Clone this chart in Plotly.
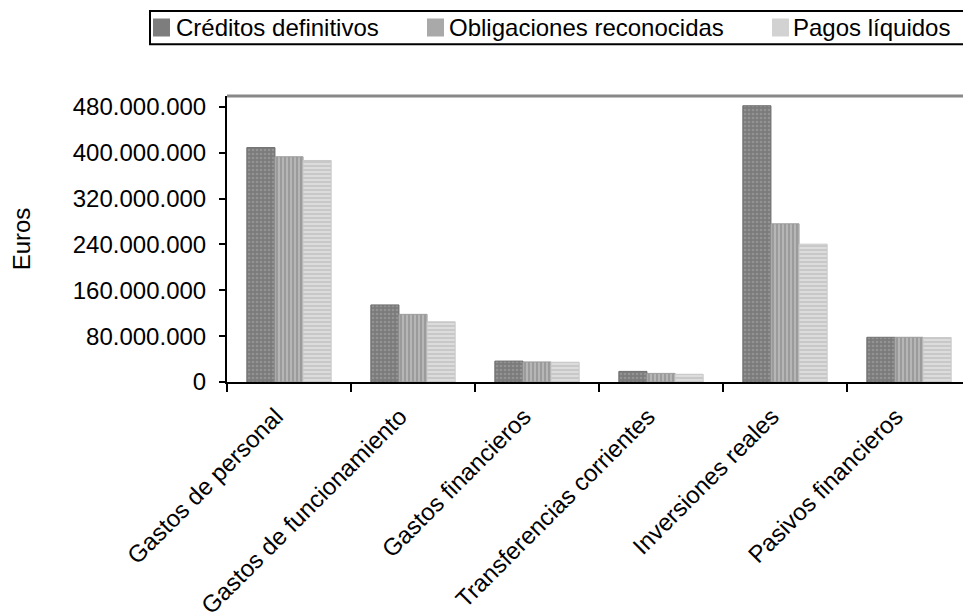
import plotly.graph_objects as go

categorias = ["Gastos de personal", "Gastos de funcionamiento", "Gastos financieros",
              "Transferencias corrientes", "Inversiones reales", "Pasivos financieros"]
creditos_definitivos = [409e6, 134.5e6, 36.5e6, 18.5e6, 482e6, 78e6]
obligaciones_reconocidas = [393e6, 118e6, 35e6, 15e6, 276e6, 78e6]
pagos_liquidos = [386.5e6, 105e6, 34.5e6, 13.5e6, 240.5e6, 77.5e6]
y_ticks = [0, 80e6, 160e6, 240e6, 320e6, 400e6, 480e6]
series_names = ["Créditos definitivos", "Obligaciones reconocidas", "Pagos líquidos"]

FONT = "Liberation Sans, Arial, sans-serif"
FS = 24

# page geometry (the html body adds an 8px offset)
OFF = 8
W, H = 971 - OFF, 612 - OFF
ML, MT, MB = 219, 88, 230
PW = W - ML
PH = H - MT - MB


def px_x(p):
    return (p - OFF - ML) / PW


def px_y(p):
    return (H - MB - (p - OFF)) / PH


styles = [
    dict(bg="#7b7b7b", fg="#939393", shape=".", line="#6f6f6f", sw="#7d7d7d"),
    dict(bg="#b6b6b6", fg="#8f8f8f", shape="|", line="#9c9c9c", sw="#a9a9a9"),
    dict(bg="#dcdcdc", fg="#c0c0c0", shape="-", line="#c8c8c8", sw="#d2d2d2"),
]

fig = go.Figure()
for name, vals, st in zip(series_names,
                          [creditos_definitivos, obligaciones_reconocidas, pagos_liquidos],
                          styles):
    fig.add_trace(go.Bar(
        name=name, x=categorias, y=vals, showlegend=False,
        marker=dict(color=st["bg"],
                    pattern=dict(shape=st["shape"], bgcolor=st["bg"], fgcolor=st["fg"],
                                 size=4, solidity=0.35, fillmode="replace"),
                    line=dict(color=st["line"], width=1))))

shapes = [
    # top border of plot area
    dict(type="line", xref="paper", yref="paper", x0=0, x1=1, y0=1, y1=1,
         line=dict(color="#888888", width=3)),
    # legend box
    dict(type="rect", xref="paper", yref="paper",
         x0=px_x(150), x1=px_x(969), y0=px_y(44.3), y1=px_y(11),
         line=dict(color="black", width=2), fillcolor="white", layer="below"),
]
annotations = []
legend_swatch_x = [153, 427, 772]
legend_text_x = [175, 448, 792]
for name, st, sx, tx in zip(series_names, styles, legend_swatch_x, legend_text_x):
    shapes.append(dict(type="rect", xref="paper", yref="paper",
                       x0=px_x(sx), x1=px_x(sx + 17), y0=px_y(36.5), y1=px_y(18.5),
                       line=dict(width=0), fillcolor=st["sw"]))
    annotations.append(dict(text=name, xref="paper", yref="paper",
                            x=px_x(tx), y=px_y(27.5), xanchor="left", yanchor="middle",
                            showarrow=False, borderpad=0,
                            font=dict(family=FONT, size=FS, color="black")))

fig.update_layout(
    width=W, height=H,
    margin=dict(l=ML, r=0, t=MT, b=MB, autoexpand=False),
    paper_bgcolor="white", plot_bgcolor="white",
    font=dict(family=FONT, size=FS, color="black"),
    separators=",.",
    barmode="group", bargap=0.32, bargroupgap=0,
    showlegend=False,
    xaxis=dict(showline=True, linecolor="black", linewidth=2,
               ticks="outside", tickson="boundaries", ticklen=8, tickwidth=2,
               tickcolor="black", tickangle=-45, showgrid=False, automargin=False,
               ticklabelstandoff=9, ticklabelshift=-13,
               tickfont=dict(family=FONT, size=FS)),
    yaxis=dict(range=[0, 499e6], tickvals=y_ticks, tickformat=",d",
               showline=True, linecolor="black", linewidth=2,
               ticks="outside", ticklen=6, tickwidth=2, tickcolor="black",
               ticklabelstandoff=8, showgrid=False, zeroline=False, automargin=False,
               tickfont=dict(family=FONT, size=FS),
               title=dict(text="Euros", standoff=38, font=dict(family=FONT, size=FS))),
    shapes=shapes,
    annotations=annotations,
)

fig.write_html("out.html")
